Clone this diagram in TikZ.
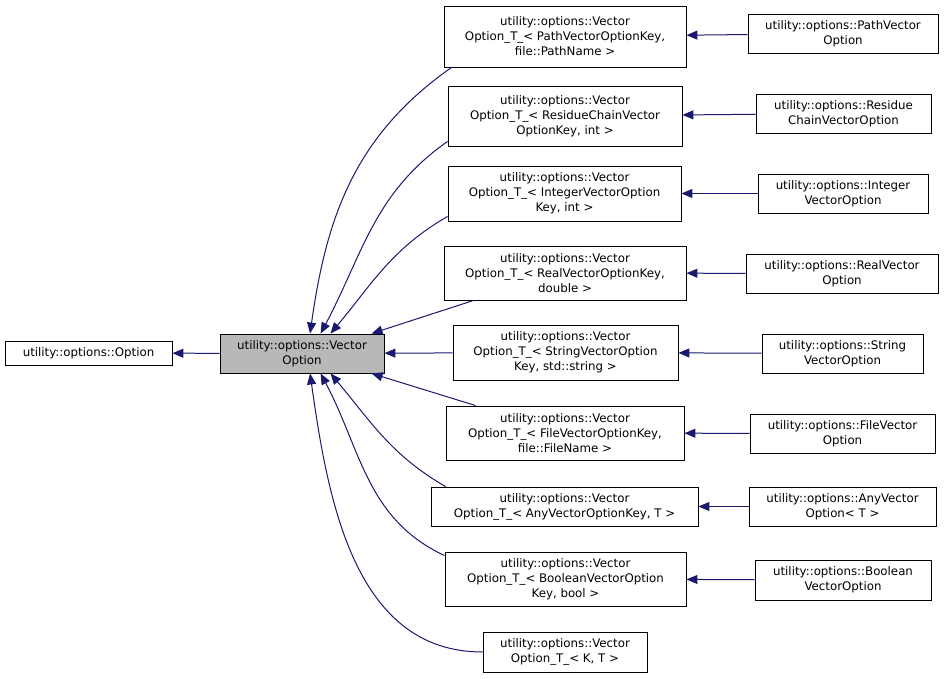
\documentclass[tikz,border=0pt]{standalone}
\usepackage{fontspec}
\setmainfont{DejaVu Sans}
\usetikzlibrary{arrows.meta}
\tikzset{
  box/.style={draw, line width=0.9pt, align=center, inner sep=0pt, font=\fontsize{11.8}{15}\selectfont},
  edge/.style={draw={rgb,255:red,25;green,25;blue,112}, line width=1pt, -{Triangle[length=11pt,width=9pt]}},
}
\begin{document}
\begin{tikzpicture}[x=1pt,y=-1pt]
  \useasboundingbox (0,0) rectangle (945,679);
  % base classes
  \node[box, minimum width=167, minimum height=24] (opt) at (88.5,353){utility::options::Option};
  \node[box, fill=black!28, minimum width=164, minimum height=39] (vo) at (302,353.5){utility::options::Vector\\Option};
  % templates
  \node[box, minimum width=242, minimum height=61] (m1) at (565,36.5){utility::options::Vector\\Option\_T\_< PathVectorOptionKey,\\file::PathName >};
  \node[box, minimum width=234, minimum height=60] (m2) at (565,116){utility::options::Vector\\Option\_T\_< ResidueChainVector\\OptionKey, int >};
  \node[box, minimum width=233, minimum height=55] (m3) at (564.5,193.5){utility::options::Vector\\Option\_T\_< IntegerVectorOption\\Key, int >};
  \node[box, minimum width=242, minimum height=54] (m4) at (565,273){utility::options::Vector\\Option\_T\_< RealVectorOptionKey,\\double >};
  \node[box, minimum width=225, minimum height=55] (m5) at (565.5,352.5){utility::options::Vector\\Option\_T\_< StringVectorOption\\Key, std::string >};
  \node[box, minimum width=238, minimum height=54] (m6) at (565,433){utility::options::Vector\\Option\_T\_< FileVectorOptionKey,\\file::FileName >};
  \node[box, minimum width=267, minimum height=39] (m7) at (564.5,506.5){utility::options::Vector\\Option\_T\_< AnyVectorOptionKey, T >};
  \node[box, minimum width=241, minimum height=54] (m8) at (565.5,579){utility::options::Vector\\Option\_T\_< BooleanVectorOption\\Key, bool >};
  \node[box, minimum width=164, minimum height=40] (m9) at (565,652){utility::options::Vector\\Option\_T\_< K, T >};
  % concrete classes
  \node[box, minimum width=190, minimum height=39] (r1) at (843,33.5){utility::options::PathVector\\Option};
  \node[box, minimum width=175, minimum height=39] (r2) at (843.5,113.5){utility::options::Residue\\ChainVectorOption};
  \node[box, minimum width=170, minimum height=39] (r3) at (843,193.5){utility::options::Integer\\VectorOption};
  \node[box, minimum width=192, minimum height=39] (r4) at (842,273.5){utility::options::RealVector\\Option};
  \node[box, minimum width=161, minimum height=39] (r5) at (842.5,353.5){utility::options::String\\VectorOption};
  \node[box, minimum width=185, minimum height=39] (r6) at (842.5,433.5){utility::options::FileVector\\Option};
  \node[box, minimum width=187, minimum height=39] (r7) at (842.5,506.5){utility::options::AnyVector\\Option< T >};
  \node[box, minimum width=176, minimum height=40] (r8) at (843,580){utility::options::Boolean\\VectorOption};
  \foreach \i in {1,...,8}
    \path[edge] (r\i) -- (m\i);
  \path[edge] (vo) -- (opt);
  \path[edge] ([xshift=8]m1.south west) to[out=215,in=82] (vo.68);
  \path[edge] ([yshift=5]m2.south west) to[out=215,in=62] (vo.47);
  \path[edge] ([yshift=5]m3.south west) to[out=210,in=50] (vo.35);
  \path[edge] ([xshift=30]m4.south west) -- (vo.16);
  \path[edge] (m5) -- (vo);
  \path[edge] ([xshift=30]m6.north west) -- (vo.-16);
  \path[edge] ([xshift=15]m7.north west) to[out=150,in=-50] (vo.-35);
  \path[edge] ([yshift=-4]m8.north west) to[out=155,in=-62] (vo.-47);
  \path[edge] (m9.west) to[out=180,in=-82] (vo.-68);
\end{tikzpicture}
\end{document}
